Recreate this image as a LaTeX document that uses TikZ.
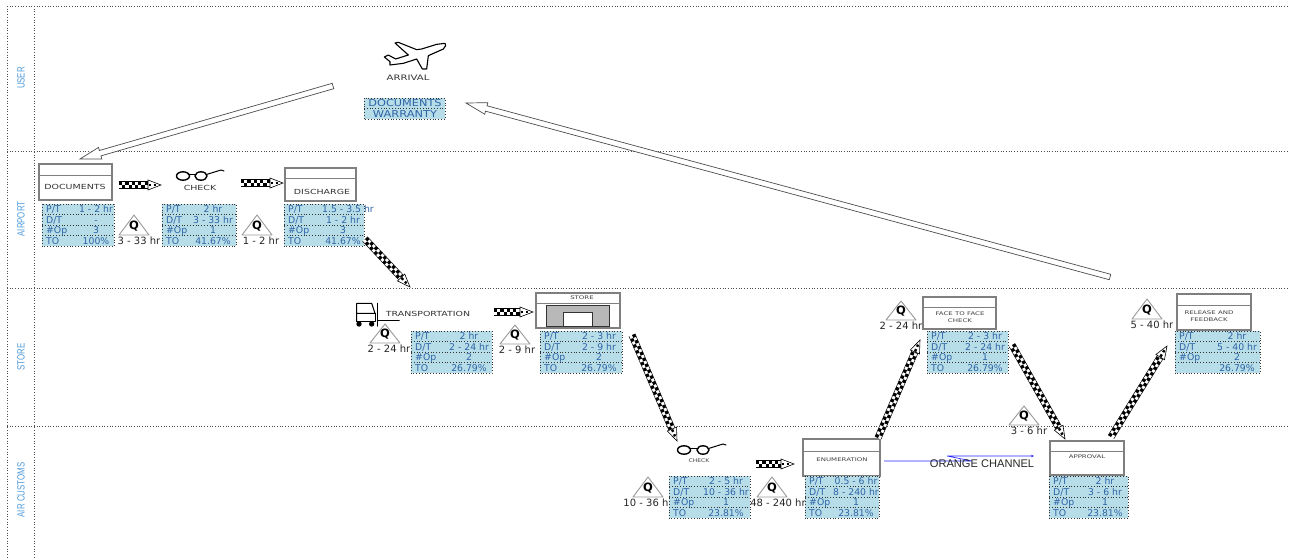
\documentclass[tikz,border=0pt]{standalone}
\usepackage{fontspec}
\setmainfont{DejaVu Sans}
\newfontfamily\arialf{Liberation Sans}
\usetikzlibrary{calc,arrows.meta}
\definecolor{cellfill}{HTML}{B7DDE8}
\definecolor{celltext}{HTML}{2E64A6}
\definecolor{lanetext}{HTML}{4F9BDC}
\definecolor{boxgray}{HTML}{7F7F7F}
\tikzset{
  x=1pt,y=-1pt,
  laneline/.style={draw=black!70,line width=0.7pt,dotted},
  lanelabel/.style={rotate=90,text=lanetext,font=\arialf\fontsize{10.5}{10}\selectfont,xscale=0.75},
  procbox/.style={draw=boxgray,line width=1.1pt,fill=white},
  proctext/.style={font=\fontsize{7}{7}\selectfont,text=black!80,align=center,inner sep=0pt,xscale=1.35},
  smalltext/.style={font=\fontsize{5}{6.5}\selectfont,text=black!75,align=center,inner sep=0pt,xscale=1.4},
  celltxt/.style={font=\fontsize{9.3}{9}\selectfont,text=celltext,inner sep=0pt},
  cellline/.style={draw=black!80,line width=0.8pt,dotted},
  qtext/.style={font=\fontsize{10}{10}\selectfont,inner sep=0pt,text=black!85},
  qtri/.style={draw=black!40,line width=0.9pt,fill=white,line join=round},
  bigarrow/.style={draw=black!70,line width=0.7pt,fill=white,line join=miter},
  iconline/.style={draw=black,line width=1.1pt,line join=round,line cap=round},
}
\newcommand{\procbox}[6]{% name x0 y0 x1 y1 liney
  \draw[procbox] (#2,#3) rectangle (#4,#5);
  \draw[draw=boxgray,line width=0.8pt] (#2,#6) -- (#4,#6);
  \coordinate (#1) at ($(#2,#3)!0.5!(#4,#5)$);
}
\newcommand{\qmark}[6]{% name apexx apexy basey labelx labelcontent
  \node[qtext] (#1-l) at (#5,{#4+6}) {#6};
  \draw[qtri] (#2,#3) -- ({#2+15},#4) -- ({#2-15},#4) -- cycle;
  \node[inner sep=0pt,font=\bfseries\fontsize{11.5}{11}\selectfont] (#1-q) at (#2,{#4-8.5}) {Q};
}
\def\tolabel{TO}
\newcommand{\dtable}[9]{% name x0 y0 x1 vx v1 v2 v3 v4
  \fill[cellfill] (#2,#3) rectangle (#4,{#3+42.4});
  \draw[cellline] (#2,#3) rectangle (#4,{#3+42.4});
  \draw[cellline] (#2,{#3+10.6}) -- (#4,{#3+10.6});
  \draw[cellline] (#2,{#3+21.2}) -- (#4,{#3+21.2});
  \draw[cellline] (#2,{#3+31.8}) -- (#4,{#3+31.8});
  \node[celltxt,anchor=base west] (#1-a) at ({#2+4},{#3+8.7}) {P/T};
  \node[celltxt,anchor=base west] (#1-b) at ({#2+4},{#3+19.3}) {D/T};
  \node[celltxt,anchor=base west] (#1-c) at ({#2+4},{#3+29.9}) {\#Op};
  \node[celltxt,anchor=base west] (#1-d) at ({#2+4},{#3+40.5}) {\tolabel};
  \node[celltxt,anchor=base] (#1-e) at (#5,{#3+8.7}) {#6};
  \node[celltxt,anchor=base] (#1-f) at (#5,{#3+19.3}) {#7};
  \node[celltxt,anchor=base] (#1-g) at (#5,{#3+29.9}) {#8};
  \node[celltxt,anchor=base] (#1-h) at (#5,{#3+40.5}) {#9};
}
\newcommand{\chk}[2]{% from to (named coordinates)
  \coordinate (h) at ($(#2)!13pt!(#1)$);
  \path[fill=white] ($(#1)!3.4pt!90:(h)$) -- ($(h)!3.4pt!-90:(#1)$) -- ($(h)!3.4pt!90:(#1)$) -- ($(#1)!3.4pt!-90:(h)$) -- cycle;
  \draw[black,line width=3.2pt,dash pattern=on 3.2pt off 3.2pt] ($(#1)!1.6pt!90:(h)$) -- ($(h)!1.6pt!-90:(#1)$);
  \draw[black,line width=3.2pt,dash pattern=on 3.2pt off 3.2pt,dash phase=3.2pt] ($(#1)!1.6pt!-90:(h)$) -- ($(h)!1.6pt!90:(#1)$);
  \draw[black,line width=0.5pt] ($(#1)!3.3pt!90:(h)$) -- ($(h)!3.3pt!-90:(#1)$);
  \draw[black,line width=0.5pt] ($(#1)!3.3pt!-90:(h)$) -- ($(h)!3.3pt!90:(#1)$);
  \draw[black,line width=0.6pt,fill=white] (#2) -- ($(h)!5pt!90:(#1)$) -- ($(h)!5pt!-90:(#1)$) -- cycle;
  \draw[black,line width=2.4pt,dash pattern=on 2.6pt off 2.6pt] ($(h)!0.5pt!(#2)$) -- ($(h)!8pt!(#2)$);
}
\newcommand{\bigarr}[2]{% from to
  \coordinate (h) at ($(#2)!21pt!(#1)$);
  \draw[bigarrow] ($(#1)!2.8pt!90:(h)$) -- ($(h)!2.8pt!-90:(#1)$) -- ($(h)!6pt!-90:(#1)$) -- (#2) -- ($(h)!6pt!90:(#1)$) -- ($(h)!2.8pt!90:(#1)$) -- ($(#1)!2.8pt!-90:(h)$) -- cycle;
}
\newcommand{\glasses}[3]{% x1 y x2
  \draw[iconline,line width=1.4pt] (#1,#2) ellipse (6.5 and 4.2);
  \draw[iconline,line width=1.4pt] (#3,#2) ellipse (6 and 4.2);
  \draw[iconline,line width=1pt] ({#1+5},{#2-2}) -- ({#3-5},{#2-2});
  \draw[iconline,line width=1pt] ({#3+5.5},{#2-1.5}) -- ({#3+20},{#2-6}) -- ({#3+23},{#2-5});
}
\begin{document}
\begin{tikzpicture}
\useasboundingbox (0,0) rectangle (1289,557);
\fill[white] (0,0) rectangle (1289,557);
% lanes
\draw[laneline] (7,6) -- (1289,6);
\draw[laneline] (7,151) -- (1289,151);
\draw[laneline] (7,288.5) -- (1289,288.5);
\draw[laneline] (7,426.5) -- (1289,426.5);
\draw[laneline] (7,6) -- (7,557);
\draw[laneline] (34,6) -- (34,557);
\node[lanelabel] (l1) at (21,78) {USER};
\node[lanelabel] (l2) at (21,219) {AIRPORT};
\node[lanelabel] (l3) at (21,357) {STORE};
\node[lanelabel] (l4) at (21,490) {AIR CUSTOMS};
% plane
\begin{scope}[shift={(375,35)},x=0.3333pt,y=-0.3333pt]
\draw[iconline,line width=1.1pt,fill=white] (210,25) -- (185,28) -- (140,42) -- (125,44) -- (70,22) -- (60,24) -- (100,60) -- (62,72) -- (40,60) -- (28,66) -- (45,80) -- (45,90) -- (85,85) -- (125,72) -- (142,102) -- (155,102) -- (160,62) -- (205,42) -- (212,32) -- cycle;
\end{scope}
\node[proctext,font=\fontsize{7.5}{7}\selectfont] (arr) at (408,78) {ARRIVAL};
% documents / warranty
\fill[cellfill] (364,98) rectangle (445,119);
\draw[cellline] (364,98) rectangle (445,119);
\draw[cellline] (364,108.5) -- (445,108.5);
\node[celltxt,font=\fontsize{9.5}{9}\selectfont,xscale=1.19] (dw1) at (405,103.5) {DOCUMENTS};
\node[celltxt,font=\fontsize{9.5}{9}\selectfont,xscale=1.2] (dw2) at (405,114) {WARRANTY};
% boxes
\procbox{docs}{39}{164}{112}{200}{175}
\node[proctext] (docst) at (75,187) {DOCUMENTS};
\node[proctext] (chkt) at (200,188) {CHECK};
\glasses{183}{176}{201}
\procbox{disc}{285}{168}{356}{201}{178}
\node[proctext] (disct) at (322,192) {DISCHARGE};
% truck
\begin{scope}[shift={(340,280)},x=0.3333pt,y=-0.3333pt]
\draw[iconline,line width=1pt] (50,125) -- (50,70) -- (95,70) -- (105,100) -- (50,100);
\draw[iconline,line width=1pt] (105,100) -- (105,125) -- (50,125);
\draw[iconline,line width=1.2pt] (112,70) -- (112,138);
\fill[black] (57,132) circle (8);
\fill[black] (95,132) circle (8);
\draw[iconline,line width=0.8pt] (112,122) -- (178,122);
\end{scope}
\node[proctext] (trt) at (428,314) {TRANSPORTATION};
% store
\procbox{stor}{536}{293}{620}{328}{303}
\fill[black!28] (546,305) rectangle (609,326);
\draw[black!80,line width=0.8pt] (546,326) -- (546,305) -- (609,305) -- (609,326) -- cycle;
\draw[black!80,line width=0.8pt,fill=white] (563,326) -- (563,312) -- (592,312) -- (592,326);
\node[smalltext] (stt) at (582,298) {STORE};
% check 2
\glasses{684}{450}{703}
\node[smalltext,xscale=0.87] (ch2) at (699,461) {CHECK};
% enumeration
\procbox{enum}{803}{439}{880}{476}{451}
\node[smalltext] (ent) at (842,460) {ENUMERATION};
% face to face
\procbox{face}{923}{297}{996}{329}{307}
\node[smalltext] (fat) at (960,317) {FACE TO FACE\\CHECK};
% release
\procbox{rel}{1177}{294}{1251}{330}{305}
\node[smalltext] (ret) at (1209,316) {RELEASE AND\\FEEDBACK};
% approval
\procbox{appr}{1050}{441}{1124}{475}{451}
\node[smalltext] (apt) at (1087,457) {APPROVAL};
% Q
\qmark{q1}{134}{215}{235}{139}{3 - 33 hr}
\qmark{q2}{257}{215}{235}{261}{1 - 2 hr}
\qmark{q3}{385}{324}{343}{389}{2 - 24 hr}
\qmark{q4}{515}{325}{344}{517}{2 - 9 hr}
\qmark{q5}{648}{477}{497}{648}{10 - 36 hr}
\qmark{q6}{772}{477}{497}{778}{48 - 240 hr}
\qmark{q7}{901}{301}{320}{901}{2 - 24 hr}
\qmark{q8}{1024}{406}{425}{1029}{3 - 6 hr}
\qmark{q9}{1147}{299}{319}{1152}{5 - 40 hr}
% tables
\dtable{t1}{42}{204}{114}{96}{1 - 2 hr}{-}{3}{100\%}
\dtable{t2}{162}{204}{236}{213}{2 hr}{3 - 33 hr}{1}{41.67\%}
\dtable{t3}{284}{204}{364}{343}{\hspace*{10pt}1.5 - 3.5 hr}{1 - 2 hr}{3}{41.67\%}
\dtable{t4}{411}{331}{492}{469}{2 hr}{2 - 24 hr}{2}{26.79\%}
\dtable{t5}{540}{331}{622}{599}{2 - 3 hr}{2 - 9 hr}{2}{26.79\%}
\dtable{t6}{669}{476}{750}{726}{2 - 5 hr}{10 - 36 hr}{1}{23.81\%}
\dtable{t7}{805}{476}{879}{856}{0.5 - 6 hr}{8 - 240 hr}{1}{23.81\%}
\dtable{t8}{927}{331}{1008}{985}{2 - 3 hr}{2 - 24 hr}{1}{26.79\%}
\def\tolabel{}
\dtable{t9}{1175}{331}{1260}{1237}{2 hr}{5 - 40 hr}{2}{26.79\%}
\def\tolabel{TO}
\dtable{t10}{1049}{476}{1128}{1105}{2 hr}{3 - 6 hr}{1}{23.81\%}
% connectors
\coordinate (b1s) at (333,86); \coordinate (b1e) at (80,159);
\coordinate (b2s) at (1110,277); \coordinate (b2e) at (466,103);
\bigarr{b1s}{b1e}
\bigarr{b2s}{b2e}
\coordinate (c1s) at (119,185); \coordinate (c1e) at (161,185);
\coordinate (c2s) at (241,183); \coordinate (c2e) at (283,183);
\coordinate (c3s) at (365,239); \coordinate (c3e) at (410,287);
\coordinate (c4s) at (494,312); \coordinate (c4e) at (533,312);
\coordinate (c5s) at (632,335); \coordinate (c5e) at (677,441);
\coordinate (c6s) at (756,464); \coordinate (c6e) at (794,464);
\coordinate (c7s) at (878,438); \coordinate (c7e) at (920,340);
\coordinate (c8s) at (1012,345); \coordinate (c8e) at (1065,439);
\coordinate (c9s) at (1111,437); \coordinate (c9e) at (1167,346);
\chk{c1s}{c1e}\chk{c2s}{c2e}\chk{c3s}{c3e}\chk{c4s}{c4e}\chk{c5s}{c5e}
\chk{c6s}{c6e}\chk{c7s}{c7e}\chk{c8s}{c8e}\chk{c9s}{c9e}
% orange channel
\coordinate (o1) at (884,461); \coordinate (o2) at (972,461);
\coordinate (o3) at (947,456); \coordinate (o4) at (1034,456);
\draw[blue!85!white,line width=0.6pt,-{Stealth[length=3pt,width=2.5pt]}] (o1) -- (o2) -- (o3) -- (o4);
\node[inner sep=0pt,font=\arialf\fontsize{11.1}{11}\selectfont,text=black!85] (orange) at (982,464) {ORANGE CHANNEL};
\end{tikzpicture}
\end{document}
